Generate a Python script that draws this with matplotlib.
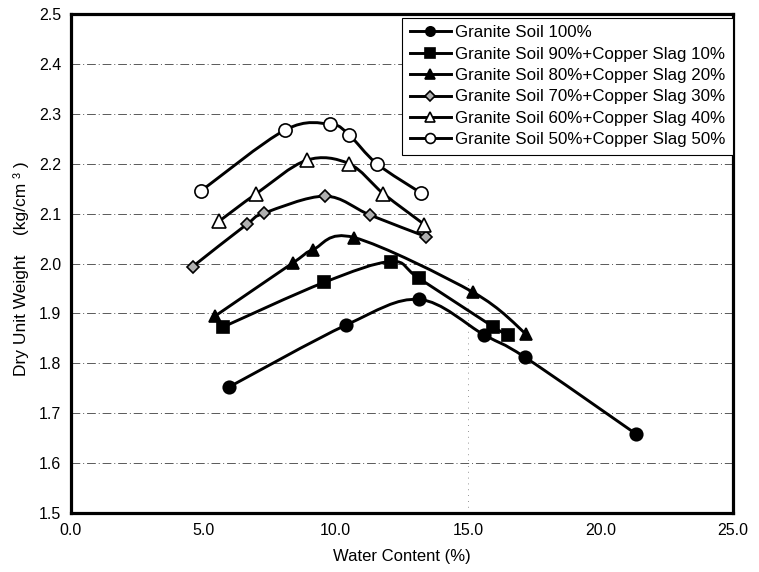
import matplotlib
matplotlib.use("Agg")
import matplotlib.pyplot as plt
import numpy as np
from matplotlib.lines import Line2D
from matplotlib.path import Path
from matplotlib.patches import PathPatch

plt.rcParams["font.family"] = ["Liberation Sans", "DejaVu Sans"]

# water content (%) and dry unit weight (kg/cm3)
x_gs100 = [5.95, 10.4, 13.15, 15.6, 17.15, 21.35]
y_gs100 = [1.752, 1.877, 1.928, 1.857, 1.812, 1.658]

x_cs10 = [5.75, 9.55, 12.1, 13.15, 15.95, 16.5]
y_cs10 = [1.873, 1.962, 2.004, 1.970, 1.873, 1.857]

x_cs20 = [5.45, 8.4, 9.15, 10.7, 15.2, 17.2]
y_cs20 = [1.895, 2.002, 2.028, 2.052, 1.942, 1.858]

x_cs30 = [4.6, 6.65, 7.3, 9.6, 11.3, 13.4]
y_cs30 = [1.994, 2.079, 2.101, 2.135, 2.097, 2.054]

x_cs40 = [5.6, 7.0, 8.9, 10.5, 11.8, 13.35]
y_cs40 = [2.085, 2.140, 2.207, 2.200, 2.140, 2.078]

x_cs50 = [4.9, 8.1, 9.8, 10.5, 11.55, 13.2]
y_cs50 = [2.145, 2.268, 2.279, 2.258, 2.200, 2.142]

labels = [
    "Granite Soil 100%",
    "Granite Soil 90%+Copper Slag 10%",
    "Granite Soil 80%+Copper Slag 20%",
    "Granite Soil 70%+Copper Slag 30%",
    "Granite Soil 60%+Copper Slag 40%",
    "Granite Soil 50%+Copper Slag 50%",
]

x_ticks = [0.0, 5.0, 10.0, 15.0, 20.0, 25.0]
y_ticks = [1.5, 1.6, 1.7, 1.8, 1.9, 2.0, 2.1, 2.2, 2.3, 2.4, 2.5]

# marker style per series: (marker, face, size)
styles = [
    ("o", "black", 9),
    ("s", "black", 9),
    ("^", "black", 9),
    ("D", "#b0b0b0", 6.5),
    ("^", "white", 9.5),
    ("o", "white", 9.5),
]


def smooth_path(xs, ys):
    # excel-style smoothed line: bezier segments through every point
    p = np.column_stack([xs, ys]).astype(float)
    n = len(p)
    verts = [p[0]]
    codes = [Path.MOVETO]
    for i in range(n - 1):
        p0 = p[i - 1] if i > 0 else p[i]
        p3 = p[i + 2] if i + 2 < n else p[i + 1]
        c1 = p[i] + (p[i + 1] - p0) / 6.0
        c2 = p[i + 1] - (p3 - p[i]) / 6.0
        verts += [c1, c2, p[i + 1]]
        codes += [Path.CURVE4] * 3
    return Path(verts, codes)


fig = plt.figure(figsize=(7.59, 5.72), dpi=100)
ax = fig.add_axes([0.0935, 0.1031, 0.8722, 0.8724])

ax.set_xlim(0, 25)
ax.set_ylim(1.5, 2.5)

for yv in y_ticks[1:-1]:
    ax.axhline(yv, color="0.35", lw=0.7, ls=(0, (9, 3, 1, 3)), zorder=1)
ax.vlines(15, 1.5, 1.97, color="0.45", lw=0.6, ls=(0, (1, 6)), zorder=1)

series = [
    (x_gs100, y_gs100), (x_cs10, y_cs10), (x_cs20, y_cs20),
    (x_cs30, y_cs30), (x_cs40, y_cs40), (x_cs50, y_cs50),
]
handles = []
for (xs, ys), (mk, fc, ms), lab in zip(series, styles, labels):
    ax.add_patch(PathPatch(smooth_path(xs, ys), fill=False, edgecolor="black",
                           lw=2.1, zorder=3))
    ax.plot(xs, ys, ls="none", marker=mk, mfc=fc, mec="black", mew=1.2,
            ms=ms, zorder=4)
    handles.append(Line2D([], [], color="black", lw=2.1, marker=mk, mfc=fc,
                          mec="black", mew=1.2, ms=ms * 0.75, label=lab))

ax.set_xticks(x_ticks)
ax.set_xticklabels([f"{v:.1f}" for v in x_ticks])
ax.set_yticks(y_ticks)
ax.set_yticklabels([f"{v:.1f}" for v in y_ticks])
ax.tick_params(length=0, labelsize=11.5, pad=7)

for s in ax.spines.values():
    s.set_linewidth(2.3)

ax.set_xlabel("Water Content (%)", fontsize=12, labelpad=8)
ax.set_ylabel("Dry Unit Weight    (kg/cm \u00b3 )", fontsize=12.5, labelpad=9)
ax.yaxis.set_label_coords(-0.064, 0.49)

leg = ax.legend(handles=handles, loc="upper right", bbox_to_anchor=(1.0, 0.993),
                borderaxespad=0, fontsize=12.2, handlelength=2.4,
                handletextpad=0.25, labelspacing=0.38, fancybox=False,
                framealpha=1, edgecolor="black", borderpad=0.45)
leg.get_frame().set_linewidth(0.8)

fig.savefig("out.png", dpi=100)
